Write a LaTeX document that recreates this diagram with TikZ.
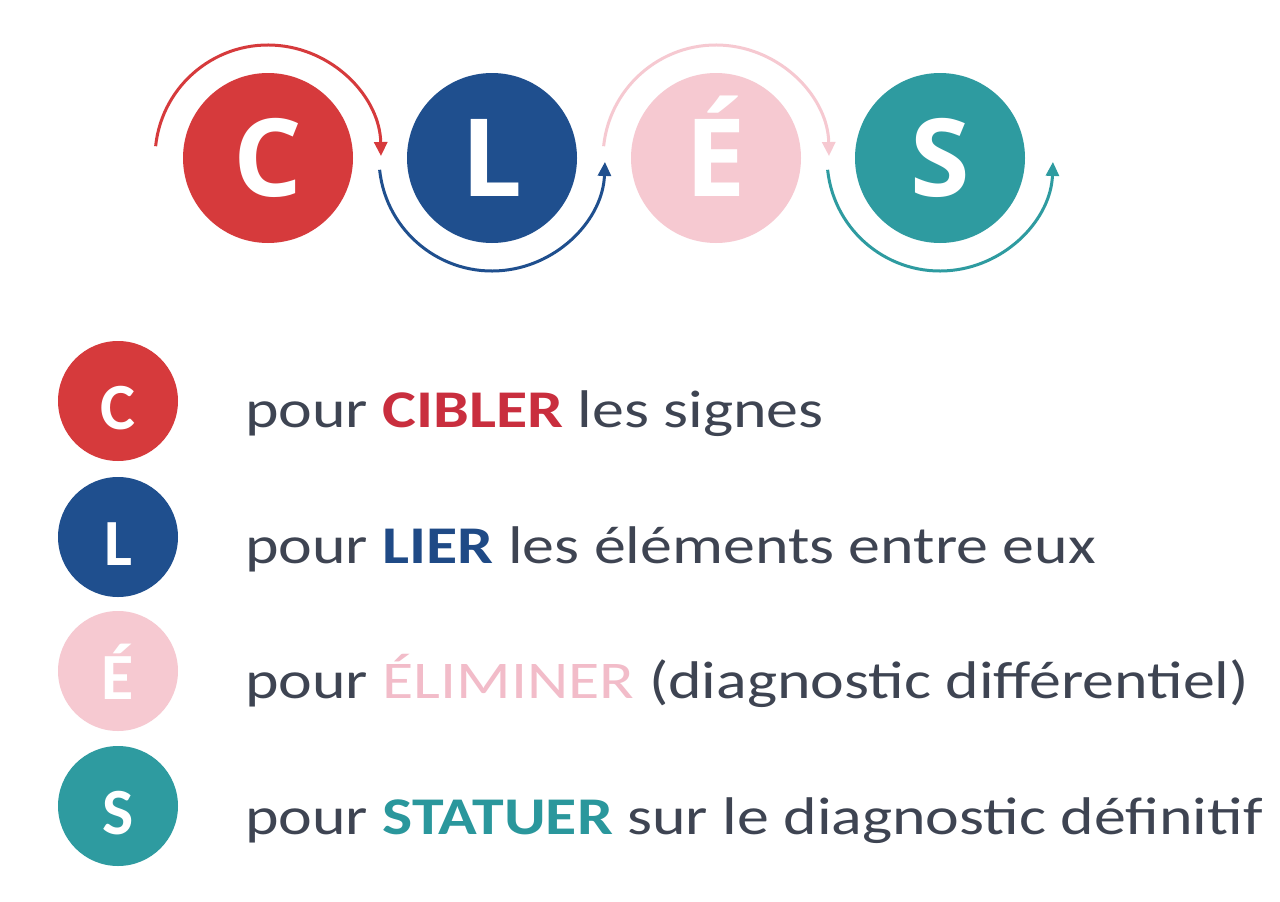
\documentclass[tikz,border=0pt]{standalone}
\usepackage{fontspec}
\setmainfont{Carlito}
\newfontfamily\topfont{Open Sans}
\newfontfamily\legfont[FakeStretch=1.205]{Carlito}
\usetikzlibrary{arrows.meta}
\definecolor{cred}{HTML}{D63A3C}
\definecolor{cblue}{HTML}{1F4F8E}
\definecolor{cpink}{HTML}{F6C9D1}
\definecolor{cteal}{HTML}{2E9BA0}
\definecolor{ctext}{HTML}{3E4452}
\definecolor{wred}{HTML}{C92E3E}
\definecolor{wblue}{HTML}{1F4A86}
\definecolor{wpink}{HTML}{F2BCC9}
\definecolor{wteal}{HTML}{2A979C}
\begin{document}
\begin{tikzpicture}[x=1pt,y=-1pt,
  topcirc/.style={circle, minimum size=170pt, inner sep=0pt},
  toplet/.style={text=white, font=\topfont\bfseries\fontsize{108}{108}\selectfont, anchor=base, inner sep=0pt},
  arcarrow/.style={line width=3pt, -{Triangle[length=14pt,width=13pt]}},
  legcirc/.style={circle, minimum size=120pt, inner sep=0pt},
  leglet/.style={text=white, font=\bfseries\fontsize{66}{66}\selectfont, anchor=base, inner sep=0pt},
  legtext/.style={text=ctext, font=\legfont\fontsize{53}{53}\selectfont, anchor=base west, inner sep=0pt}]
\useasboundingbox (0,0) rectangle (1280,902);
\fill[white] (0,0) rectangle (1280,902);
% top circles
\node[topcirc, fill=cred]  (C) at (268,158) {};
\node[topcirc, fill=cblue] (L) at (492,158) {};
\node[topcirc, fill=cpink] (E) at (716,158) {};
\node[topcirc, fill=cteal] (S) at (940,158) {};
\node[toplet] (Ct) at ([yshift=-38pt]C.center) {C};
\node[toplet] (Lt) at ([yshift=-38pt]L.center) {L};
\node[toplet] (Et) at ([yshift=-38pt]E.center) {É};
\node[toplet] (St) at ([yshift=-38pt]S.center) {S};
% arcs
\draw[arcarrow, cred]  ([shift={(-174:113)}]C.center) arc[start angle=-174, end angle=-1, radius=113];
\draw[arcarrow, cblue] ([shift={(174:113)}]L.center) arc[start angle=174, end angle=2, radius=113];
\draw[arcarrow, cpink] ([shift={(-174:113)}]E.center) arc[start angle=-174, end angle=-1, radius=113];
\draw[arcarrow, cteal] ([shift={(174:113)}]S.center) arc[start angle=174, end angle=2, radius=113];
% legend
\node[legcirc, fill=cred]  (lC) at (118,401) {};
\node[legcirc, fill=cblue] (lL) at (118,537) {};
\node[legcirc, fill=cpink] (lE) at (118,671) {};
\node[legcirc, fill=cteal] (lS) at (118,806) {};
\node[leglet] (lCt) at ([yshift=-28pt]lC.center) {C};
\node[leglet] (lLt) at ([yshift=-28pt]lL.center) {L};
\node[leglet] (lEt) at ([yshift=-28pt]lE.center) {É};
\node[leglet] (lSt) at ([yshift=-28pt]lS.center) {S};
\node[legtext] (t1) at (245,427) {pour \textbf{\textcolor{wred}{CIBLER}} les signes};
\node[legtext] (t2) at (245,563) {pour \textbf{\textcolor{wblue}{LIER}} les éléments entre eux};
\node[legtext] (t3) at (245,698) {pour \textcolor{wpink}{ÉLIMINER} (diagnostic différentiel)};
\node[legtext] (t4) at (245,834) {pour \textbf{\textcolor{wteal}{STATUER}} sur le diagnostic définitif};
\end{tikzpicture}
\end{document}
